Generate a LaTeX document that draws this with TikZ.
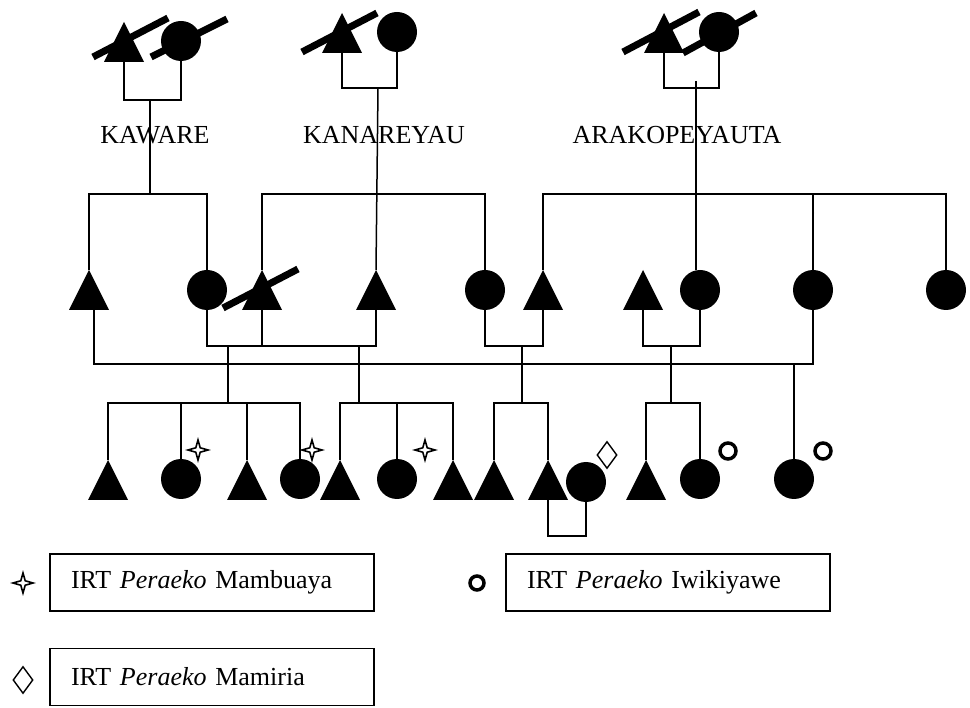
\documentclass[tikz,border=0pt]{standalone}
\usepackage{fontspec}
\setmainfont{Liberation Serif}
\usetikzlibrary{shapes.geometric,positioning}

\tikzset{
  male/.style={rectangle, minimum width=40, minimum height=40, inner sep=0,
    path picture={\fill (path picture bounding box.south west) -- (path picture bounding box.north)
      -- (path picture bounding box.south east) -- cycle;}},
  female/.style={circle, fill, minimum size=40, inner sep=0},
  dead/.style={line width=7},
  kin/.style={line width=1.5},
  starmark/.style={star, star points=4, star point ratio=3.2, draw, line width=1.6, minimum size=20, inner sep=0},
  ringmark/.style={circle, draw, line width=3.5, minimum size=16, inner sep=0},
  diamark/.style={diamond, draw, line width=1.4, minimum width=20, minimum height=27, inner sep=0},
  legendbox/.style={draw, line width=1.5, text width=282, align=left, inner xsep=21, minimum height=57}
}

\begin{document}
\begin{tikzpicture}[x=1pt, y=-1pt, font=\fontsize{26}{31}\selectfont]
  \useasboundingbox (0,0) rectangle (970,708);

  % Grandparents
  \node[male]   (kaM) at (124,42) {};
  \node[female] (kaF) at (181,41) {};
  \node[male]   (knM) at (342,33) {};
  \node[female] (knF) at (397,32) {};
  \node[male]   (arM) at (664,33) {};
  \node[female] (arF) at (719,32) {};

  %dead
  \foreach \p/\a/\b/\c/\d in {kaM/-31/15/44/-24, kaF/-30/16/46/-22, knM/-40/19/35/-20,
                              arM/-41/19/35/-21, arF/-36/21/37/-19}
      \draw[dead] ([shift={(\a,\b)}]\p.center) -- ([shift={(\c,\d)}]\p.center);

  % Names
  \node[anchor=base] (kaL) at (155,144) {KAWARE};
  \node[anchor=base] (knL) at (384,144) {KANAREYAU};
  \node[anchor=base] (arL) at (677,144) {ARAKOPEYAUTA};

  \coordinate (kaU) at (150,100);
  \coordinate (knU) at (378,88);
  \coordinate (arU) at (696,88);
  \draw[kin] (kaM.south) |- (kaU) -| (kaF.south);
  \draw[kin] (knM.south) |- (knU) -| (knF.south);
  \draw[kin] (arM.south) -- (arM.south |- arU) -- (arF.south |- arU) -- (arF.south);

  % Parents
  \node[male]   (c1)  at (89,290)  {};
  \node[female] (c2)  at (207,290) {};
  \node[male]   (c3)  at (262,290) {};
  \node[male]   (c4)  at (376,290) {};
  \node[female] (c5)  at (485,290) {};
  \node[male]   (c6)  at (543,290) {};
  \node[male]   (c7)  at (643,290) {};
  \node[female] (c8)  at (700,290) {};
  \node[female] (c9)  at (813,290) {};
  \node[female] (c10) at (946,290) {};
  \draw[dead] ([shift={(-39,18)}]c3.center) -- ([shift={(36,-21)}]c3.center);
  \node[circle, fill, inner sep=0, minimum size=2] (dot) at (813,213) {};

  % Sibling lines
  \coordinate (kaD) at (150,194);
  \coordinate (knD) at (377,194);
  \coordinate (arD) at (696,194);
  \draw[kin] (kaU) -- (kaD);
  \draw[kin] (c1.north) |- (kaD) -| (c2.north);
  \draw[kin] (knU) -- (c4.north);
  \draw[kin] (c3.north) |- (knD) -| (c5.north);
  \draw[kin] ([shift={(0,-7)}]arU) -- ([xshift=-4]c8.north);
  \draw[kin] (c6.north) |- (arD) -| (c10.north);
  \draw[kin] (c9.north) -- (c9.north |- arD);

  % Marriages
  \coordinate (m1) at (228,346);
  \coordinate (m2) at (359,346);
  \coordinate (m3) at (522,346);
  \coordinate (m4) at (671,346);
  \coordinate (m5) at (794,364);
  \draw[kin] (c2.south) -- (c2.south |- m1) -- (c4.south |- m1) -- (c4.south);
  \draw[kin] (c3.south) -- (c3.south |- m1);
  \draw[kin] (c5.south) |- (m3) -| (c6.south);
  \draw[kin] (c7.south) |- (m4) -| (c8.south);
  \draw[kin] ([xshift=5]c1.south) |- (m5) -| (c9.south);

  % Children
  \node[male]   (g1)  at (108,480) {};
  \node[female] (g2)  at (181,479) {};
  \node[male]   (g3)  at (247,480) {};
  \node[female] (g4)  at (300,479) {};
  \node[male]   (g5)  at (340,480) {};
  \node[female] (g6)  at (397,479) {};
  \node[male]   (g7)  at (453,480) {};
  \node[male]   (g8)  at (494,480) {};
  \node[male]   (g9)  at (548,480) {};
  \node[female] (g10) at (586,482) {};
  \node[male]   (g11) at (646,480) {};
  \node[female] (g12) at (700,479) {};
  \node[female] (g13) at (794,479) {};

  \coordinate (s1) at (228,403);
  \coordinate (s2) at (359,403);
  \coordinate (s3) at (522,403);
  \coordinate (s4) at (671,403);
  \coordinate (m6) at (567,536);
  \draw[kin] (m1) -- (s1);
  \draw[kin] (m2) -- (s2);
  \draw[kin] (m3) -- (s3);
  \draw[kin] (m4) -- (s4);
  \draw[kin] (m5) -- (g13.north);
  \draw[kin] (g1.north) |- (s1) -| (g4.north);
  \draw[kin] (g5.north) |- (s2) -| (g7.north);
  \draw[kin] (g8.north) |- (s3) -| (g9.north);
  \draw[kin] (g11.north) |- (s4) -| (g12.north);
  \foreach \g/\s in {g2/s1, g3/s1, g6/s2}
      \draw[kin] (\g.north) -- (\g.north |- \s);
  \draw[kin] (g9.south) |- (m6) -| (g10.south);

  % IRT marks
  \node[starmark] (st1) at (198,450) {};
  \node[starmark] (st2) at (312,450) {};
  \node[starmark] (st3) at (425,450) {};
  \node[diamark]  (di1) at (607,455) {};
  \node[ringmark] (ri1) at (728,451) {};
  \node[ringmark] (ri2) at (823,451) {};

  % Legend
  \node[starmark]  (lgS) at (23,583) {};
  \node[legendbox] (lgA) at (212,582.5) {IRT \textit{Peraeko} Mambuaya};
  \node[ringmark, minimum size=14] (lgR) at (477,583) {};
  \node[legendbox] (lgB) at (668,582.5) {IRT \textit{Peraeko} Iwikiyawe};
  \node[diamark]   (lgD) at (23,680) {};
  \node[legendbox] (lgC) at (212,677) {IRT \textit{Peraeko} Mamiria};
\end{tikzpicture}
\end{document}
